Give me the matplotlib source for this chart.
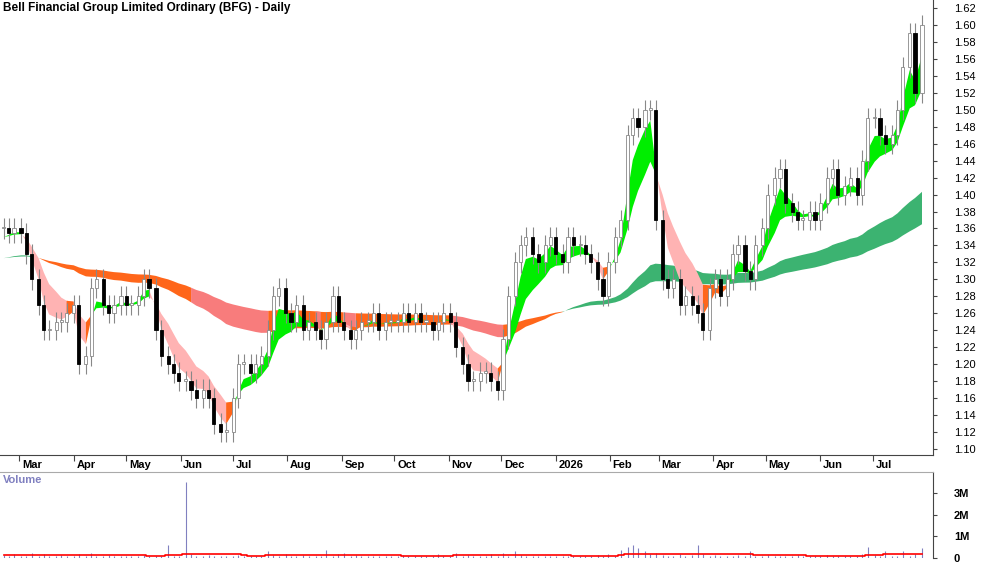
import numpy as np, pandas as pd, matplotlib
matplotlib.use("Agg")
import matplotlib.pyplot as plt
from matplotlib.patches import Rectangle

closes = [1.36,1.355,1.36,1.355,
 1.33,1.30,1.27,1.24,1.24,1.25,1.25,1.26,1.27,
 1.20,1.21,1.29,1.30,1.27,1.26,1.27,1.28,1.27,
 1.27,1.28,1.30,1.29,1.24,1.21,1.20,1.19,1.18,
 1.18,1.17,1.16,1.17,1.16,1.13,1.12,1.12,1.16,
 1.20,1.20,1.19,1.20,1.21,1.24,1.28,1.29,1.26,
 1.25,1.27,1.24,1.25,1.24,1.23,1.25,1.28,1.25,
 1.24,1.23,1.24,1.25,1.25,1.26,1.24,1.25,1.25,
 1.25,1.26,1.25,1.26,1.25,1.25,1.24,1.25,1.26,
 1.25,1.22,1.20,1.18,1.18,1.19,1.19,1.18,1.17,
 1.23,1.28,1.32,1.34,1.35,1.33,1.32,1.34,1.35,
 1.33,1.32,1.35,1.34,1.34,1.33,1.32,1.30,1.28,
 1.32,1.35,1.37,1.47,1.49,1.48,1.50,1.50,
 1.37,1.30,1.29,1.30,1.27,1.28,1.27,1.26,1.24,
 1.29,1.30,1.28,1.30,1.33,1.34,1.31,1.30,1.34,
 1.36,1.40,1.42,1.43,1.39,1.38,1.37,1.37,1.38,
 1.37,1.39,1.42,1.43,1.40,1.41,1.42,1.40,1.44,
 1.49,1.49,1.47,1.46,1.47,1.50,1.55,1.59,1.52,1.60]
volumes_m = [0.15,0.1,0.2,0.1, 0.1,0.25,0.1,0.2,0.1,0.1,0.15,0.1,0.1,
 0.2,0.1,0.25,0.1,0.1,0.15,0.1,0.1,0.1, 0.1,0.1,0.15,0.1,0.1,0.1,0.6,0.1,0.1,
 3.5,0.2,0.1,0.1,0.15,0.1,0.1,0.1,0.1, 0.15,0.1,0.1,0.1,0.1,0.3,0.15,0.1,0.2,
 0.1,0.1,0.15,0.1,0.1,0.1,0.35,0.1,0.2, 0.25,0.1,0.15,0.1,0.1,0.1,0.1,0.1,0.1,
 0.1,0.15,0.1,0.1,0.1,0.1,0.1,0.2,0.1, 0.1,0.25,0.1,0.15,0.1,0.1,0.1,0.2,0.1,
 0.25,0.1,0.3,0.15,0.1,0.1,0.1,0.1,0.1, 0.1,0.1,0.1,0.1,0.1,0.1,0.1,0.15,0.1,
 0.2,0.1,0.35,0.5,0.6,0.45,0.3,0.2, 0.25,0.15,0.1,0.1,0.2,0.1,0.15,0.6,0.2,
 0.1,0.15,0.1,0.1,0.1,0.15,0.1,0.3,0.1, 0.1,0.15,0.1,0.1,0.1,0.1,0.15,0.1,0.1,
 0.1,0.1,0.15,0.1,0.1,0.1,0.1,0.1,0.2, 0.5,0.15,0.1,0.3,0.1,0.1,0.3,0.1,0.2,0.45]
months = ['Mar','Apr','May','Jun','Jul','Aug','Sep','Oct','Nov','Dec','2026','Feb','Mar','Apr','May','Jun','Jul']
month_starts = pd.date_range('2025-03-01','2026-07-01',freq='MS')
yticks = np.round(np.arange(1.10,1.621,0.02),2)
long_start = 1.325  # level of the long band before the first candle
short_start = 1.35

n = len(closes)
dates = pd.date_range('2025-02-20','2026-07-29',periods=n)
x = dates.map(pd.Timestamp.toordinal).values.astype(float)
c = np.array(closes); o = np.r_[c[0], c[:-1]]
hi = np.maximum(o,c)+0.012; lo = np.minimum(o,c)-0.012

ss = pd.Series(np.r_[short_start, c[1:]])
f1 = ss.ewm(span=3.5, adjust=False).mean().values
f2 = ss.ewm(span=9, adjust=False).mean().values
sl = pd.Series(np.r_[long_start, c[1:]])
l1 = sl.ewm(span=55, adjust=False).mean().values
l2 = sl.ewm(span=95, adjust=False).mean().values

fig = plt.figure(figsize=(10,5.62), dpi=100)
plt.rcParams['font.family'] = 'Liberation Sans'
ax = fig.add_axes([0.0, 1-455/562, 0.933, 455/562])
axv = fig.add_axes([0.0, 1-558/562, 0.933, 86/562], sharex=ax)

down = l1 < l2
run = np.zeros(n, int)
for i in range(n):
    run[i] = (run[i-1]+1 if i>0 else 1) if down[i] else 0
lg = ~down
lo_or = down & ((run <= 26) | (f1 > l1))
lo_sal = down & ~lo_or
for m, col in [(lg,'#3cb371'),(lo_or,'#ff661a'),(lo_sal,'#f87c7c')]:
    mm = m | np.r_[m[1:], False]
    ax.fill_between(x, l1, l2, where=mm, color=col, lw=0, zorder=1)
sdown = f1 < f2
slope = np.r_[0, np.diff(f2)]
sg = ~sdown; sp = sdown & (slope < -0.003); so = sdown & (slope >= -0.003)
for m, col in [(sg,'#00ee00'),(sp,'#ffb3b3'),(so,'#ff661a')]:
    mm = m | np.r_[m[1:], False]
    ax.fill_between(x, f1, f2, where=mm, color=col, lw=0, zorder=2)

w = 1.8
for xi, oi, ci, h, l in zip(x, o, c, hi, lo):
    ax.vlines(xi, l, h, color='#888888', lw=0.8, zorder=3)
    up = ci >= oi
    ax.add_patch(Rectangle((xi-w/2, min(oi,ci)), w, max(abs(ci-oi),0.002),
        facecolor='white' if up else 'black', edgecolor='#888888' if up else 'black', lw=0.6, zorder=4))

ax.set_ylim(1.0929, 1.6294)
x0 = x[0]-2
ax.set_xlim(x0, x0 + (x[-1]-x0)*933/922)
ax.yaxis.tick_right()
ax.set_yticks(yticks); ax.set_yticklabels([f'{v:.2f}' for v in yticks], fontsize=8)
ax.tick_params(axis='y', length=3, pad=12, color='#444444')
ms = month_starts.map(pd.Timestamp.toordinal).values
ax.set_xticks(ms); ax.tick_params(axis='x', length=4, labelbottom=False, color='#444444')
for m, t in zip(ms, months):
    ax.text(m+1.5, -0.012, t, transform=ax.get_xaxis_transform(), ha='left', va='top', fontsize=8, fontweight='bold')
for sp_ in ['top','left']:
    ax.spines[sp_].set_visible(False)
ax.spines['bottom'].set_color('#444444'); ax.spines['right'].set_color('#444444')
ax.text(0.003, 0.995, 'Bell Financial Group Limited Ordinary (BFG) - Daily', transform=ax.transAxes,
        ha='left', va='top', fontsize=8.5, fontweight='bold')

v = np.array(volumes_m)
axv.vlines(x, 0, v, color='#8080c0', lw=0.8)
vma = pd.Series(v).rolling(10, min_periods=1).mean().values
axv.step(x, np.minimum(vma, 0.2), color='red', lw=1.2, where='mid')
axv.set_ylim(0, 3.96)
axv.yaxis.tick_right()
axv.set_yticks([0,1,2,3]); axv.set_yticklabels(['0','1M','2M','3M'], fontsize=8, fontweight='bold')
axv.tick_params(axis='y', length=3, pad=12, color='#444444')
axv.tick_params(axis='x', length=0, labelbottom=False)
for sp_ in ['bottom','left']:
    axv.spines[sp_].set_visible(False)
axv.spines['top'].set_color('#aaaaaa'); axv.spines['right'].set_color('#444444')
axv.text(0.003, 0.97, 'Volume', transform=axv.transAxes, ha='left', va='top', fontsize=8, color='#8080c0', fontweight='bold')
fig.savefig('out.png', dpi=100)
